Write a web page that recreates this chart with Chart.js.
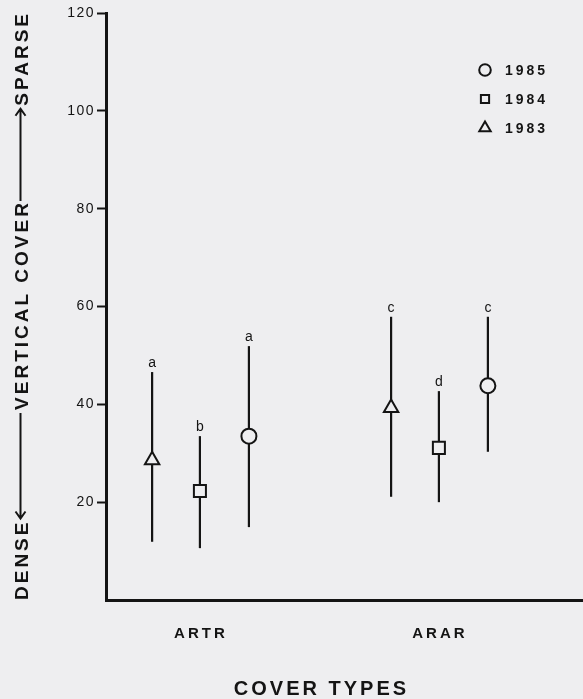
<!DOCTYPE html>
<html>
<head>
<meta charset="utf-8">
<script src="https://cdn.jsdelivr.net/npm/chart.js@4/dist/chart.umd.min.js"></script>
<style>
  html, body { margin: 0; padding: 0; background: #eeeef0; }
  canvas { display: block; }
</style>
</head>
<body>
<canvas id="chart" width="583" height="699"></canvas>
<script>
// data
const categories = ["ARTR", "ARAR"];
const years = ["1983", "1984", "1985"];

const means1983 = [28.6, 39.3];
const low1983 = [11.9, 21.1];
const high1983 = [46.6, 57.9];
const letters1983 = ["a", "c"];

const means1984 = [22.3, 31.1];
const low1984 = [10.6, 20.0];
const high1984 = [33.5, 42.7];
const letters1984 = ["b", "d"];

const means1985 = [33.5, 43.8];
const low1985 = [14.9, 30.3];
const high1985 = [51.9, 57.9];
const letters1985 = ["a", "c"];

const yTicks = [20, 40, 60, 80, 100, 120];
const yTitle = ["DENSE", "VERTICAL COVER", "SPARSE"];
const xTitle = "COVER TYPES";

// look
const ink = "#141414";
const paper = "#eeeef0";
const font = '"Liberation Sans", Arial, sans-serif';
const offsets = [-0.2, 0, 0.205];
const shapes = ["triangle", "rect", "circle"];
const sizes = [8.3, 8.5, 7.5];

function makeSet(k, means, low, high, letters) {
  return {
    label: years[k],
    data: means.map((m, i) => ({ x: i + offsets[k], y: m })),
    low: low,
    high: high,
    letters: letters,
    pointStyle: shapes[k],
    pointRadius: sizes[k],
    pointHoverRadius: sizes[k],
    pointBorderWidth: 2,
    pointBorderColor: ink,
    pointBackgroundColor: paper,
    showLine: false
  };
}

// canvas letter spacing (and an optional shift) for one drawing method of a scale
function spaced(obj, name, px, dx, dy) {
  if (obj["_sp_" + name]) return;
  const orig = obj[name];
  obj[name] = function () {
    const c = this.ctx;
    const old = c.letterSpacing;
    c.save();
    c.translate(dx || 0, dy || 0);
    c.letterSpacing = px;
    orig.apply(this, arguments);
    c.letterSpacing = old;
    c.restore();
  };
  obj["_sp_" + name] = true;
}

const background = {
  id: "background",
  beforeDraw(chart) {
    const c = chart.ctx;
    c.save();
    c.fillStyle = paper;
    c.fillRect(0, 0, chart.width, chart.height);
    c.restore();
  }
};

const spacing = {
  id: "spacing",
  afterLayout(chart) {
    spaced(chart.scales.y, "drawLabels", "1.5px");
    spaced(chart.scales.x, "drawLabels", "3px", 1, 0);
    spaced(chart.scales.x, "drawTitle", "3px", -23, 2);
  }
};

const errorBars = {
  id: "errorBars",
  beforeDatasetsDraw(chart) {
    const c = chart.ctx;
    const xs = chart.scales.x, ys = chart.scales.y;
    c.save();
    c.strokeStyle = ink;
    c.fillStyle = ink;
    c.lineWidth = 2.2;
    c.font = "14px " + font;
    c.textAlign = "center";
    c.textBaseline = "alphabetic";
    chart.data.datasets.forEach((ds, k) => {
      ds.data.forEach((p, i) => {
        const x = xs.getPixelForValue(p.x);
        const top = ys.getPixelForValue(ds.high[i]);
        const bot = ys.getPixelForValue(ds.low[i]);
        c.beginPath();
        c.moveTo(x, bot);
        c.lineTo(x, top);
        c.stroke();
        c.fillText(ds.letters[i], x, top - 5);
      });
    });
    c.restore();
  }
};

function marker(c, style, x, y, r) {
  c.beginPath();
  if (style === "circle") {
    c.arc(x, y, r, 0, Math.PI * 2);
  } else if (style === "rect") {
    const s = r * Math.SQRT1_2;
    c.rect(x - s, y - s, 2 * s, 2 * s);
  } else {
    c.moveTo(x, y - r);
    c.lineTo(x + r * 0.866, y + r / 2);
    c.lineTo(x - r * 0.866, y + r / 2);
    c.closePath();
  }
  c.fill();
  c.stroke();
}

const legendBox = {
  id: "legendBox",
  afterDatasetsDraw(chart) {
    const c = chart.ctx;
    const a = chart.chartArea;
    const sets = chart.data.datasets.slice().reverse();
    const lsize = { circle: 5.8, rect: 5.8, triangle: 6.6 };
    c.save();
    c.font = "bold 14px " + font;
    c.letterSpacing = "3px";
    c.textAlign = "left";
    c.textBaseline = "middle";
    c.lineWidth = 2;
    sets.forEach((ds, j) => {
      const y = a.top + 57 + j * 29;
      const x = a.right - 98;
      c.strokeStyle = ink;
      c.fillStyle = paper;
      marker(c, ds.pointStyle, x, y, lsize[ds.pointStyle]);
      c.fillStyle = ink;
      c.fillText(ds.label, x + 20, y + 1);
    });
    c.restore();
  }
};

const yTitleDraw = {
  id: "yTitleDraw",
  afterDraw(chart) {
    const c = chart.ctx;
    const a = chart.chartArea;
    const sp = 3;
    c.save();
    c.font = "bold 19px " + font;
    c.letterSpacing = sp + "px";
    c.fillStyle = ink;
    c.strokeStyle = ink;
    c.lineWidth = 2;
    c.textBaseline = "alphabetic";
    c.translate(27.5, 0);
    c.rotate(-Math.PI / 2);
    const w = yTitle.map(t => c.measureText(t).width - sp);
    const d0 = -a.bottom;
    const d1 = d0 + w[0];
    const mid = -(a.top + a.bottom) / 2;
    const m0 = mid - w[1] / 2, m1 = mid + w[1] / 2;
    const s1 = -a.top - 1, s0 = s1 - w[2];
    c.textAlign = "left";
    c.fillText(yTitle[0], d0, 0);
    c.fillText(yTitle[1], m0, 0);
    c.fillText(yTitle[2], s0, 0);
    const ly = -7;
    // lower arrow, pointing at DENSE
    const t1 = d1 + 4;
    c.beginPath();
    c.moveTo(m0 - 3, ly);
    c.lineTo(t1, ly);
    c.moveTo(t1 + 7, ly - 5);
    c.lineTo(t1, ly);
    c.lineTo(t1 + 7, ly + 5);
    c.stroke();
    // upper arrow, pointing at SPARSE
    const t2 = s0 - 3;
    c.beginPath();
    c.moveTo(m1 + 2, ly);
    c.lineTo(t2, ly);
    c.moveTo(t2 - 7, ly - 5);
    c.lineTo(t2, ly);
    c.lineTo(t2 - 7, ly + 5);
    c.stroke();
    c.restore();
  }
};

new Chart(document.getElementById("chart"), {
  type: "scatter",
  data: {
    datasets: [
      makeSet(0, means1983, low1983, high1983, letters1983),
      makeSet(1, means1984, low1984, high1984, letters1984),
      makeSet(2, means1985, low1985, high1985, letters1985)
    ]
  },
  options: {
    responsive: false,
    animation: false,
    layout: { autoPadding: false, padding: { top: 13, right: 0, bottom: 0, left: 0 } },
    plugins: {
      legend: { display: false },
      tooltip: { enabled: false }
    },
    scales: {
      x: {
        type: "linear",
        min: -0.393,
        max: 1.603,
        afterFit(s) {
          s.height = 99;
          s.paddingLeft = 0;
          s.paddingRight = 0;
        },
        afterBuildTicks(s) { s.ticks = categories.map((c, i) => ({ value: i })); },
        grid: { display: true, drawOnChartArea: false, drawTicks: false },
        border: { display: true, width: 3, color: ink },
        ticks: {
          padding: 25,
          color: ink,
          font: { family: font, size: 15, weight: "bold" },
          callback: v => categories[v]
        },
        title: {
          display: true,
          text: xTitle,
          color: ink,
          font: { family: font, size: 20, weight: "bold" },
          padding: { top: 0, bottom: 0 }
        }
      },
      y: {
        min: 0,
        max: 120,
        afterFit(s) {
          s.width = 106;
          s.paddingTop = 0;
          s.paddingBottom = 0;
        },
        afterBuildTicks(s) { s.ticks = yTicks.map(v => ({ value: v })); },
        grid: {
          drawOnChartArea: false,
          drawTicks: true,
          tickLength: 9,
          tickWidth: 2,
          tickColor: ink
        },
        border: { display: true, width: 3, color: ink },
        ticks: {
          padding: 2,
          color: ink,
          font: { family: font, size: 14 }
        }
      }
    }
  },
  plugins: [background, spacing, errorBars, legendBox, yTitleDraw]
});
</script>
</body>
</html>
